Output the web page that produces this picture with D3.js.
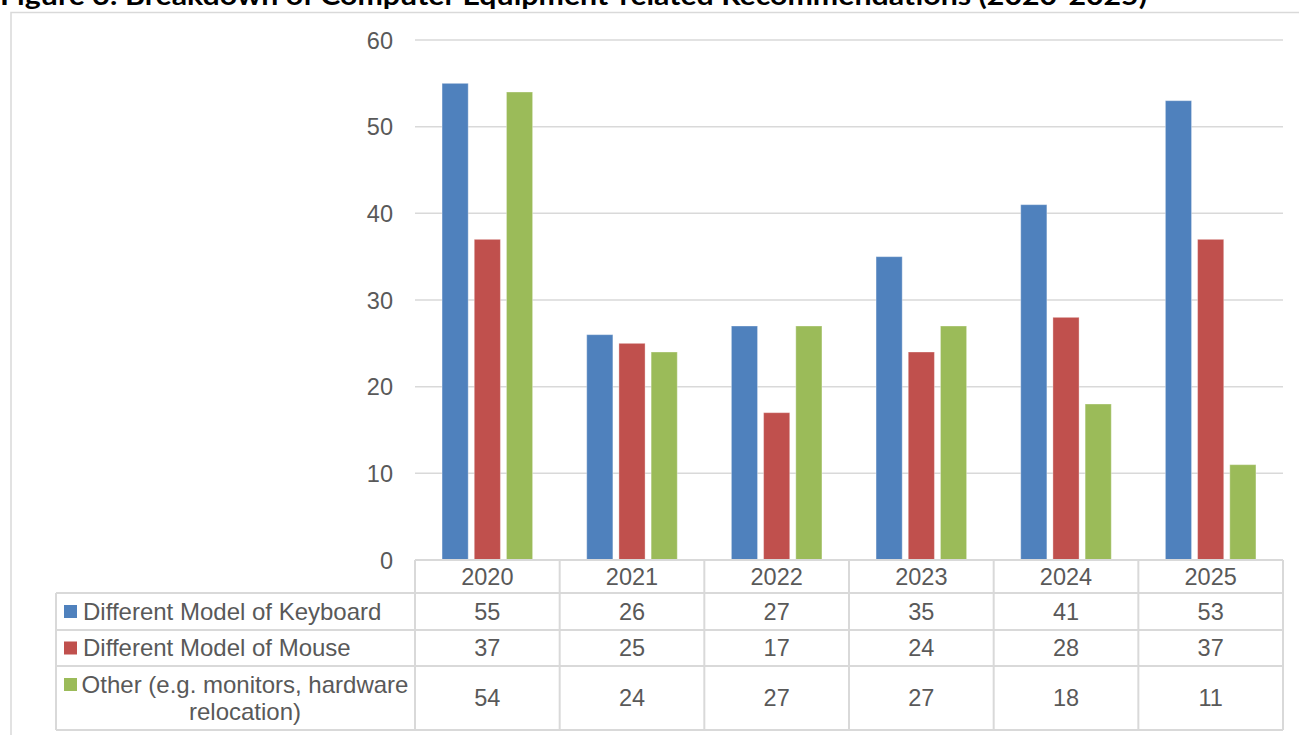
<!DOCTYPE html>
<html>
<head>
<meta charset="utf-8">
<script src="https://cdn.jsdelivr.net/npm/d3@7/dist/d3.min.js"></script>
<style>
  html, body { margin: 0; padding: 0; background: #fff; }
  svg { display: block; }
  text { font-family: "Liberation Sans", Arial, sans-serif; fill: #595959; }
</style>
</head>
<body>
<svg id="chart" width="1299" height="735"></svg>
<script>
// Recommendation counts per year, by equipment type
const years = ["2020", "2021", "2022", "2023", "2024", "2025"];
const seriesNames = ["Different Model of Keyboard", "Different Model of Mouse", "Other (e.g. monitors, hardware relocation)"];
const keyboard = [55, 26, 27, 35, 41, 53];
const mouse = [37, 25, 17, 24, 28, 37];
const other = [54, 24, 27, 27, 18, 11];
const yTicks = [0, 10, 20, 30, 40, 50, 60];
const colors = ["#4F81BD", "#C0504D", "#9BBB59"];
const titleText = "Figure 3: Breakdown of Computer Equipment-related Recommendations (2020-2025)";

const seriesValues = [keyboard, mouse, other];

const svg = d3.select("#chart");
const gridColor = "#d9d9d9";
const numSize = "23.5px";
const labelSize = "24px";

// Layout
const plotLeft = 415, plotRight = 1283, plotTop = 40, plotBottom = 560;
const legendLeft = 56;
const rowEdges = [560, 593, 630, 666, 730]; // header row, then one row per series

// Title (runs off the top edge of the page)
svg.append("text")
  .attr("x", 0)
  .attr("y", 5)
  .attr("textLength", 1147)
  .attr("lengthAdjust", "spacingAndGlyphs")
  .style("font-family", "Lato, 'Open Sans', sans-serif")
  .style("font-weight", "bold")
  .style("font-size", "26px")
  .style("fill", "#000")
  .text(titleText);

// Outer frame
svg.append("rect")
  .attr("x", 11).attr("y", 12.5)
  .attr("width", 1300).attr("height", 740)
  .attr("fill", "none")
  .attr("stroke", gridColor)
  .attr("stroke-width", 1.5);

// Scales
const x0 = d3.scaleBand().domain(years).range([plotLeft, plotRight]).padding(0);
const cw = x0.bandwidth();
const x1 = d3.scaleBand()
  .domain(d3.range(seriesNames.length))
  .range([cw * 0.187, cw * 0.813])
  .paddingInner(0.1875)
  .paddingOuter(0);
const y = d3.scaleLinear().domain([0, 60]).range([plotBottom, plotTop]);

// Horizontal gridlines
svg.append("g")
  .selectAll("line")
  .data(yTicks.filter(d => d > 0))
  .join("line")
  .attr("x1", plotLeft).attr("x2", plotRight)
  .attr("y1", d => y(d)).attr("y2", d => y(d))
  .attr("stroke", gridColor)
  .attr("stroke-width", 1.5);

// Y axis labels
const yAxis = d3.axisLeft(y).tickValues(yTicks).tickSize(0).tickPadding(0);
const yg = svg.append("g")
  .attr("transform", `translate(393,0)`)
  .call(yAxis);
yg.select(".domain").remove();
yg.selectAll("text")
  .attr("dy", "0.35em")
  .style("font-size", numSize)
  .style("font-family", "'Liberation Sans', Arial, sans-serif")
  .attr("fill", "#595959");

// Bars
const groups = svg.append("g")
  .selectAll("g")
  .data(years)
  .join("g")
  .attr("transform", d => `translate(${x0(d)},0)`);

groups.selectAll("rect")
  .data((d, i) => seriesValues.map((vals, s) => ({ s, v: vals[i] })))
  .join("rect")
  .attr("x", d => x1(d.s))
  .attr("width", x1.bandwidth())
  .attr("y", d => y(d.v))
  .attr("height", d => y(0) - y(d.v))
  .attr("fill", d => colors[d.s])
  .attr("stroke", "#fff")
  .attr("stroke-opacity", 0.35)
  .attr("stroke-width", 1);

// Data table grid
const tg = svg.append("g").attr("stroke", gridColor).attr("stroke-width", 2);
// header top line (axis)
tg.append("line")
  .attr("x1", plotLeft).attr("x2", plotRight)
  .attr("y1", rowEdges[0]).attr("y2", rowEdges[0]);
// row lines
rowEdges.slice(1).forEach(ry => {
  tg.append("line")
    .attr("x1", legendLeft).attr("x2", plotRight)
    .attr("y1", ry).attr("y2", ry);
});
// legend column left edge
tg.append("line")
  .attr("x1", legendLeft).attr("x2", legendLeft)
  .attr("y1", rowEdges[1]).attr("y2", rowEdges[rowEdges.length - 1]);
// column edges
years.forEach(yr => {
  tg.append("line")
    .attr("x1", x0(yr)).attr("x2", x0(yr))
    .attr("y1", rowEdges[0]).attr("y2", rowEdges[rowEdges.length - 1]);
});
tg.append("line")
  .attr("x1", plotRight).attr("x2", plotRight)
  .attr("y1", rowEdges[0]).attr("y2", rowEdges[rowEdges.length - 1]);

// Header: year labels
svg.append("g")
  .selectAll("text")
  .data(years)
  .join("text")
  .attr("x", d => x0(d) + cw / 2)
  .attr("y", (rowEdges[0] + rowEdges[1]) / 2)
  .attr("dy", "0.35em")
  .attr("text-anchor", "middle")
  .style("font-size", numSize)
  .text(d => d);

// Value rows
seriesValues.forEach((vals, s) => {
  const cy = (rowEdges[s + 1] + rowEdges[s + 2]) / 2;
  svg.append("g")
    .selectAll("text")
    .data(vals)
    .join("text")
    .attr("x", (d, i) => x0(years[i]) + cw / 2)
    .attr("y", cy)
    .attr("dy", "0.35em")
    .attr("text-anchor", "middle")
    .style("font-size", numSize)
    .text(d => d);
});

// Legend keys with series names
const textLeft = 83, textRight = 407, keyX = 64, keySize = 13;
const legendLines = [
  ["Different Model of Keyboard"],
  ["Different Model of Mouse"],
  ["Other (e.g. monitors, hardware", "relocation)"]
];
legendLines.forEach((lines, s) => {
  const top = rowEdges[s + 1], bot = rowEdges[s + 2];
  const cy = (top + bot) / 2;
  const lh = 27;
  const firstY = cy - (lines.length - 1) * lh / 2;
  svg.append("rect")
    .attr("x", keyX)
    .attr("y", firstY - keySize / 2)
    .attr("width", keySize)
    .attr("height", keySize)
    .attr("fill", colors[s]);
  lines.forEach((ln, j) => {
    const t = svg.append("text")
      .attr("y", firstY + j * lh)
      .attr("dy", "0.35em")
      .style("font-size", labelSize)
      .text(ln);
    if (lines.length > 1) {
      t.attr("x", (textLeft + textRight) / 2).attr("text-anchor", "middle");
    } else {
      t.attr("x", textLeft);
    }
  });
});
</script>
</body>
</html>
